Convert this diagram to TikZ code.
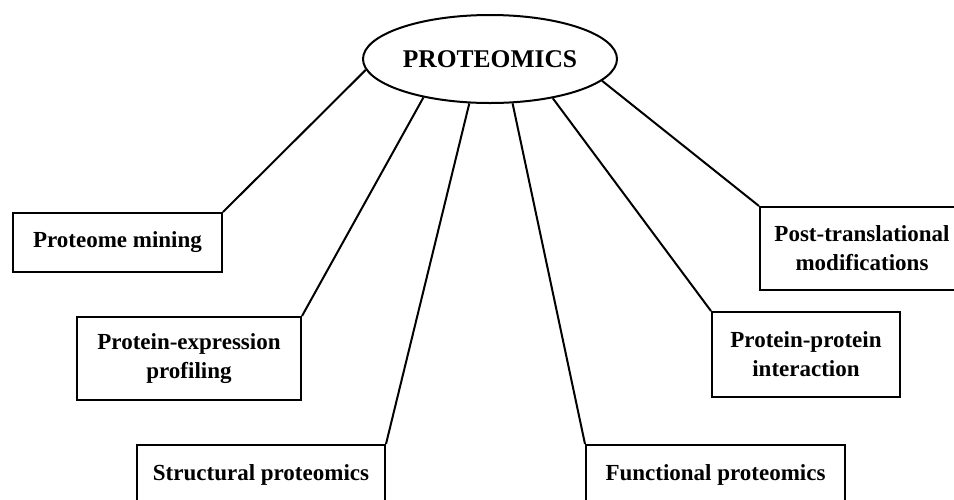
\documentclass[tikz,border=0pt]{standalone}
\usepackage{fontspec}
\setmainfont{Liberation Serif}
\usetikzlibrary{shapes.geometric}
\begin{document}
\begin{tikzpicture}[x=1pt,y=-1pt,
  topic/.style={draw, line width=2pt, fill=white, inner sep=0pt, align=center,
    font=\fontsize{23}{29}\selectfont\bfseries},
  hub/.style={draw, ellipse, line width=2pt, inner sep=0pt,
    minimum width=254pt, minimum height=88pt,
    font=\fontsize{25.5}{30}\selectfont\bfseries},
  link/.style={line width=2pt}]
  \path[use as bounding box] (0,0) rectangle (954,499);
  \clip (0,0) rectangle (954,499);
  \fill[white] (0,0) rectangle (954,499);

  % central term
  \node[hub] (E) at (490,59) {PROTEOMICS};

  % branches
  \node[topic, minimum width=209pt, minimum height=59pt] (pm) at (117.5,242.5) {Proteome mining};
  \node[topic, minimum width=224pt, minimum height=83pt] (pe) at (189,358.5) {Protein-expression\\profiling};
  \node[topic, minimum width=248pt, minimum height=60pt] (sp) at (261,475) {Structural proteomics};
  \node[topic, minimum width=259pt, minimum height=60pt] (fp) at (715.5,475) {Functional proteomics};
  \node[topic, minimum width=188pt, minimum height=85pt] (pp) at (806,354.5) {Protein-protein\\interaction};
  \node[topic, minimum width=204pt, minimum height=83pt] (pt) at (862,248.5) {Post-translational\\modifications};

  % connectors
  \draw[link] (E.185) -- (pm.north east);
  \draw[link] (E.210) -- (pe.north east);
  \draw[link] (E.245) -- (sp.north east);
  \draw[link] (E.297) -- (fp.north west);
  \draw[link] (E.328) -- (pp.north west);
  \draw[link] (E.349) -- (pt.north west);
\end{tikzpicture}
\end{document}
